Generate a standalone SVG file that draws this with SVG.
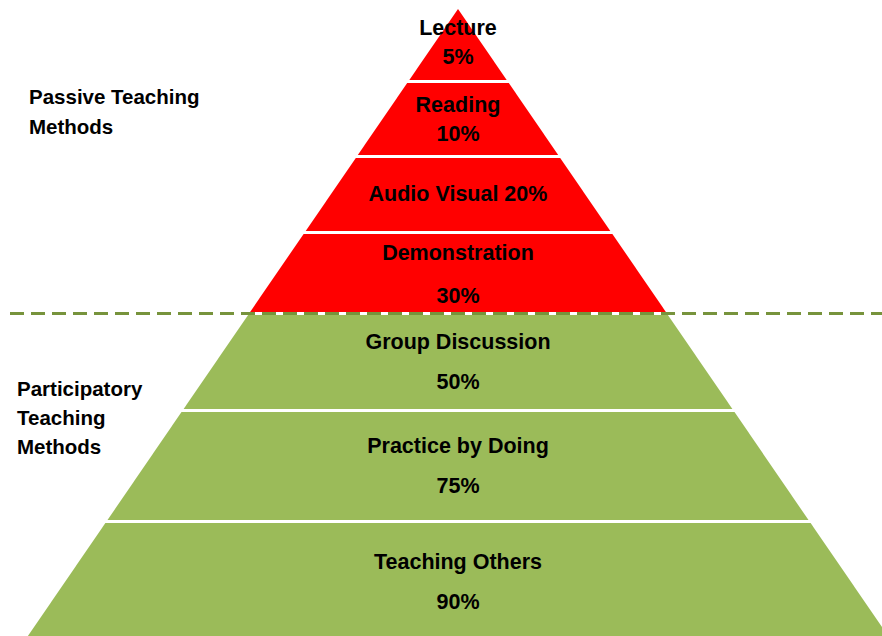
<svg xmlns="http://www.w3.org/2000/svg" width="882" height="636" viewBox="0 0 882 636">
  <style>
    .passive { fill: #FF0000; }
    .active { fill: #9BBB59; }
    .lbl { font-family: "Liberation Sans", Arial, sans-serif; font-weight: bold; font-size: 21.5px; fill: #000; text-anchor: middle; }
    .side { font-family: "Liberation Sans", Arial, sans-serif; font-weight: bold; font-size: 20.5px; fill: #000; }
    .divider { stroke: #77933C; stroke-width: 3; stroke-dasharray: 14 7; fill: none; }
  </style>
  <rect width="882" height="636" fill="#FFFFFF"/>

  <g id="lecture">
    <polygon class="passive" points="458,9 506.7,80 409.3,80"/>
    <text class="lbl" x="458" y="35">Lecture</text>
    <text class="lbl" x="458" y="64">5%</text>
  </g>
  <g id="reading">
    <polygon class="passive" points="407.2,83 508.8,83 558.2,155 357.8,155"/>
    <text class="lbl" x="458" y="112">Reading</text>
    <text class="lbl" x="458" y="141">10%</text>
  </g>
  <g id="audio-visual">
    <polygon class="passive" points="355.8,158 560.2,158 610.3,231 305.7,231"/>
    <text class="lbl" x="458" y="201">Audio Visual 20%</text>
  </g>
  <g id="demonstration">
    <polygon class="passive" points="303.6,234 612.4,234 665.9,312 250.1,312"/>
    <text class="lbl" x="458" y="260">Demonstration</text>
    <text class="lbl" x="458" y="303">30%</text>
  </g>
  <g id="group-discussion">
    <polygon class="active" points="248.1,315 667.9,315 732.4,409 183.6,409"/>
    <text class="lbl" x="458" y="349">Group Discussion</text>
    <text class="lbl" x="458" y="389">50%</text>
  </g>
  <g id="practice-by-doing">
    <polygon class="active" points="181.5,412 734.5,412 808.5,520 107.5,520"/>
    <text class="lbl" x="458" y="453">Practice by Doing</text>
    <text class="lbl" x="458" y="493">75%</text>
  </g>
  <g id="teaching-others">
    <polygon class="active" points="105.4,523 810.6,523 888.1,636 27.9,636"/>
    <text class="lbl" x="458" y="569">Teaching Others</text>
    <text class="lbl" x="458" y="609">90%</text>
  </g>

  <g id="connectors">
    <line class="divider" x1="10" y1="313.5" x2="882" y2="313.5"/>
  </g>

  <g id="passive-label">
    <text class="side" x="29" y="104">Passive Teaching</text>
    <text class="side" x="29" y="134">Methods</text>
  </g>
  <g id="participatory-label">
    <text class="side" x="17" y="396">Participatory</text>
    <text class="side" x="17" y="425">Teaching</text>
    <text class="side" x="17" y="454">Methods</text>
  </g>
</svg>
